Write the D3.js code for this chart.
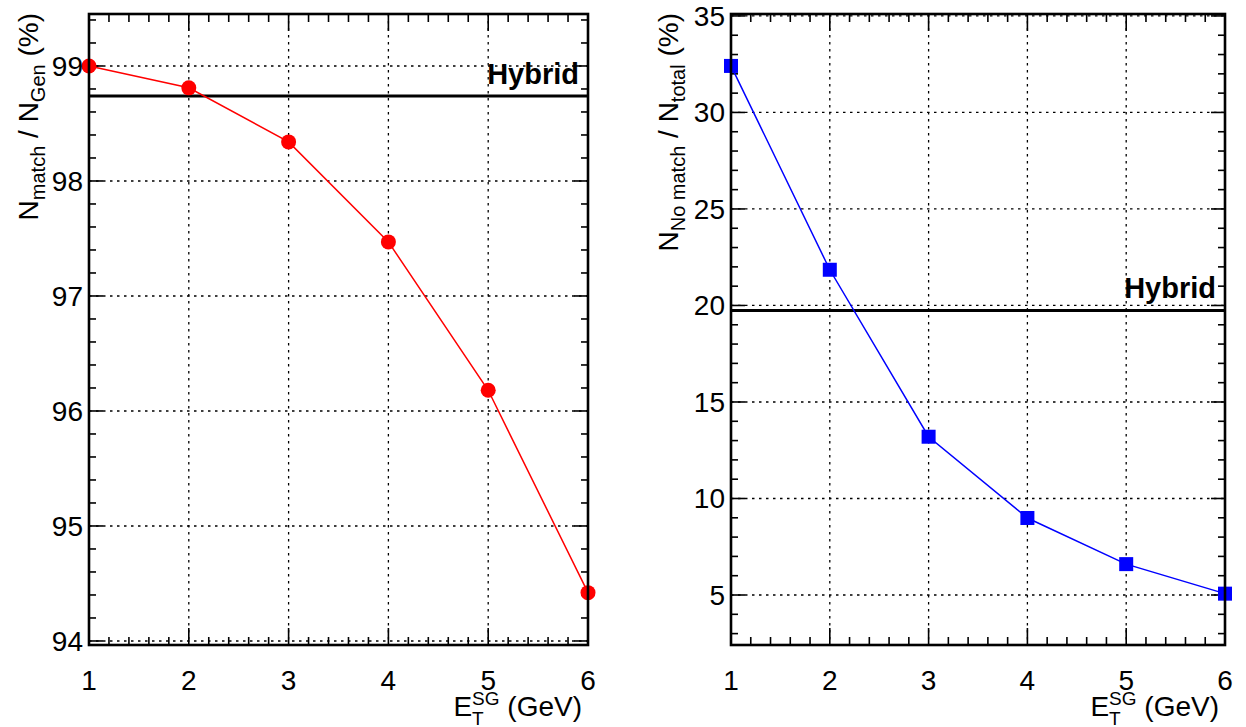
<!DOCTYPE html>
<html><head><meta charset="utf-8">
<script src="https://cdn.jsdelivr.net/npm/d3@7"></script>
<style>
body{margin:0;background:#fff;}
svg{display:block;font-family:"Liberation Sans",Arial,sans-serif;}
</style></head>
<body>
<svg id="c" width="1246" height="727"></svg>
<script>
// ---- data ----
const xValues = [1, 2, 3, 4, 5, 6];
const matchEff = [99.0, 98.81, 98.34, 97.47, 96.18, 94.42];
const noMatchFrac = [32.41, 21.85, 13.2, 8.99, 6.6, 5.07];
const hybridMatch = 98.74;
const hybridNoMatch = 19.74;
const xTicks = [1, 2, 3, 4, 5, 6];
const leftYTicks = [94, 95, 96, 97, 98, 99];
const rightYTicks = [5, 10, 15, 20, 25, 30, 35];

const svg = d3.select("#c");

function panel(cfg) {
  const g = svg.append("g");
  const x = d3.scaleLinear().domain([1, 6]).range([cfg.x0, cfg.x1]);
  const y = d3.scaleLinear().domain(cfg.yDomain).range([cfg.y1, cfg.y0]);
  const dash = "2.5,4.5";
  // grid
  g.selectAll(".gx").data(xTicks.filter(t => t > 1 && t < 6)).enter().append("line")
    .attr("x1", d => x(d)).attr("x2", d => x(d)).attr("y1", cfg.y0).attr("y2", cfg.y1)
    .attr("stroke", "#000").attr("stroke-width", 1.3).attr("stroke-dasharray", dash);
  g.selectAll(".gy").data(cfg.yTicks).enter().append("line")
    .attr("x1", cfg.x0).attr("x2", cfg.x1).attr("y1", d => y(d)).attr("y2", d => y(d))
    .attr("stroke", "#000").attr("stroke-width", 1.3).attr("stroke-dasharray", dash);

  // minor/major ticks
  const xMinor = d3.range(1, 6.0001, 0.2);
  const yMinor = d3.range(Math.ceil(cfg.yDomain[0] / cfg.minor) * cfg.minor, cfg.yDomain[1] + 1e-9, cfg.minor);
  const tk = g.append("g").attr("stroke", "#000").attr("stroke-width", 1.6);
  xMinor.forEach(v => {
    const major = Math.abs(v - Math.round(v)) < 1e-6;
    const L = major ? 17 : 8;
    tk.append("line").attr("x1", x(v)).attr("x2", x(v)).attr("y1", cfg.y1).attr("y2", cfg.y1 - L);
    tk.append("line").attr("x1", x(v)).attr("x2", x(v)).attr("y1", cfg.y0).attr("y2", cfg.y0 + L);
  });
  yMinor.forEach(v => {
    const major = cfg.yTicks.some(t => Math.abs(t - v) < 1e-6);
    const L = major ? 14 : 7;
    tk.append("line").attr("y1", y(v)).attr("y2", y(v)).attr("x1", cfg.x0).attr("x2", cfg.x0 + L);
    tk.append("line").attr("y1", y(v)).attr("y2", y(v)).attr("x1", cfg.x1).attr("x2", cfg.x1 - L);
  });

  // hybrid line
  g.append("line").attr("x1", cfg.x0).attr("x2", cfg.x1)
    .attr("y1", y(cfg.hybrid)).attr("y2", y(cfg.hybrid))
    .attr("stroke", "#000").attr("stroke-width", 3);
  g.append("text").attr("x", cfg.x1 - 9).attr("y", y(cfg.hybrid) - 12)
    .attr("text-anchor", "end").attr("font-weight", "bold").attr("font-size", 29)
    .text("Hybrid");

  // data line + markers
  const pts = xValues.map((v, i) => [v, cfg.values[i]]);
  g.append("path").datum(pts)
    .attr("d", d3.line().x(d => x(d[0])).y(d => y(d[1])))
    .attr("fill", "none").attr("stroke", cfg.color).attr("stroke-width", 1.5);
  if (cfg.marker === "circle") {
    g.selectAll(".m").data(pts).enter().append("circle")
      .attr("cx", d => x(d[0])).attr("cy", d => y(d[1])).attr("r", 7.5).attr("fill", cfg.color);
  } else {
    const s = 14;
    g.selectAll(".m").data(pts).enter().append("rect")
      .attr("x", d => x(d[0]) - s / 2).attr("y", d => y(d[1]) - s / 2)
      .attr("width", s).attr("height", s).attr("fill", cfg.color);
  }

  // frame
  g.append("rect").attr("x", cfg.x0).attr("y", cfg.y0)
    .attr("width", cfg.x1 - cfg.x0).attr("height", cfg.y1 - cfg.y0)
    .attr("fill", "none").attr("stroke", "#000").attr("stroke-width", 2.6);

  // tick labels
  g.selectAll(".xl").data(xTicks).enter().append("text")
    .attr("x", d => x(d)).attr("y", cfg.y1 + 45).attr("text-anchor", "middle")
    .attr("font-size", 28).text(d => d);
  g.selectAll(".yl").data(cfg.yTicks).enter().append("text")
    .attr("x", cfg.x0 - 6).attr("y", d => y(d) + 10).attr("text-anchor", "end")
    .attr("font-size", 28).text(d => d);

  // x title: E_T^SG (GeV)
  const xt = g.append("text").attr("font-size", 28).attr("y", 716);
  xt.append("tspan").text("E");
  const sg = xt.append("tspan").attr("font-size", 19).attr("dy", -11).text("SG");
  const sgw = sg.node().getComputedTextLength();
  const tt = xt.append("tspan").attr("font-size", 19).attr("dy", 20).attr("dx", -sgw).text("T");
  const tw = tt.node().getComputedTextLength();
  xt.append("tspan").attr("dy", -9).attr("dx", sgw - tw).text("\u00a0(GeV)");
  const bb = xt.node().getBBox();
  xt.attr("x", cfg.x1 - 6 - bb.width);
  xt.selectAll("tspan").filter((d, i) => i === 0).attr("x", cfg.x1 - 6 - bb.width);

  // y title
  const yt = g.append("text").attr("font-size", 28)
    .attr("transform", `translate(${cfg.ytx},13) rotate(-90)`).attr("text-anchor", "end");
  yt.append("tspan").text("N");
  yt.append("tspan").attr("font-size", 20).attr("dy", 7).text(cfg.sub1);
  yt.append("tspan").attr("dy", -7).text(" / N");
  yt.append("tspan").attr("font-size", 20).attr("dy", 7).text(cfg.sub2);
  yt.append("tspan").attr("dy", -7).text(" (%)");
}

panel({
  x0: 89, x1: 588, y0: 14, y1: 645,
  yDomain: [93.965, 99.452], yTicks: leftYTicks, minor: 0.2,
  values: matchEff, hybrid: hybridMatch, color: "#ff0000", marker: "circle",
  sub1: "match", sub2: "Gen", ytx: 38
});
panel({
  x0: 731, x1: 1225, y0: 14, y1: 645,
  yDomain: [2.41, 35.1], yTicks: rightYTicks, minor: 1,
  values: noMatchFrac, hybrid: hybridNoMatch, color: "#0000ff", marker: "square",
  sub1: "No match", sub2: "total", ytx: 678
});
</script>
</body></html>
